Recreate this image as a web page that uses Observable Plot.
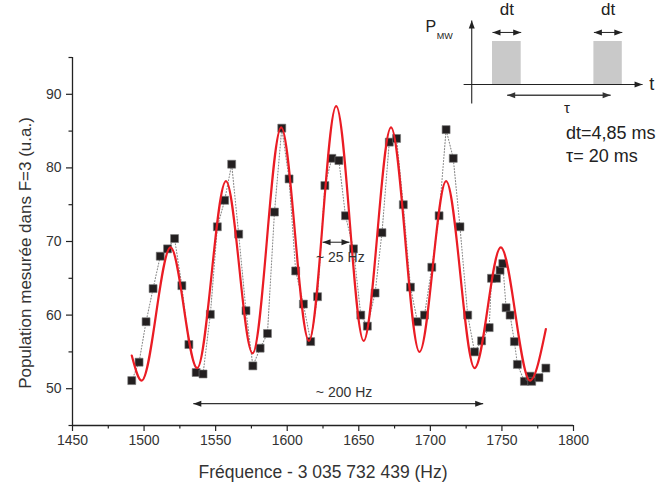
<!DOCTYPE html>
<html>
<head>
<meta charset="utf-8">
<script src="https://cdn.jsdelivr.net/npm/d3@7"></script>
<script src="https://cdn.jsdelivr.net/npm/@observablehq/plot@0.6"></script>
<style>
  body { margin: 0; background: #fff; }
  #wrap { position: relative; width: 659px; height: 487px; overflow: hidden; background: #fff; }
  #main, #inset { position: absolute; top: 0; }
  #main { left: 0; }
  #inset { left: 400px; }
</style>
</head>
<body>
<div id="wrap"><div id="main"></div><div id="inset"></div></div>
<script>
// ---- measured data (frequency offset in Hz, population in a.u.) ----
const freq = [1491.4,1496.5,1501.4,1506.3,1511.3,1516.4,1521.3,1526.4,1531.3,1536.4,1541.2,1546.3,1551.2,1556.3,1561.2,1566.1,1571.2,1576.0,1581.1,1586.2,1591.1,1596.2,1601.3,1605.9,1611.3,1616.4,1621.2,1626.3,1631.2,1636.1,1640.7,1646.3,1651.4,1656.0,1661.4,1666.2,1671.3,1676.4,1681.1,1686.1,1691.0,1695.9,1701.0,1706.1,1711.0,1716.0,1720.7,1726.1,1730.9,1735.8,1741.1,1742.7,1746.2,1748.7,1750.6,1752.9,1755.7,1758.7,1760.8,1765.7,1769.6,1770.8,1775.9,1780.7];
const population = [51.1,53.6,59.1,63.6,68.0,69.0,70.4,64.0,56.0,52.2,52.0,60.1,72.0,75.6,80.5,71.0,60.6,53.1,55.5,57.5,74.0,85.4,78.5,66.0,61.5,56.4,62.5,77.6,81.3,81.0,73.5,69.0,60.0,58.5,63.0,71.2,83.5,84.0,75.0,63.8,59.1,60.0,66.5,73.5,85.2,81.3,72.0,60.0,55.0,56.5,58.3,65.0,65.0,66.1,67.0,61.0,60.0,56.4,53.3,51.0,51.7,51.0,51.5,52.8];

// ---- fitted Ramsey curve, read at its turning points ----
const fitFreq = [1491.4,1498.3,1518.5,1537.1,1557.2,1575.8,1595.8,1615.2,1634.2,1653.4,1672.5,1692.4,1711.0,1730.9,1749.2,1769.6,1780.7];
const fitPop  = [54.5,51.1,69.2,52.8,78.2,54.8,85.5,56.5,88.4,56.5,85.5,55.0,78.2,52.8,69.2,51.1,58.1];

// ---- ticks ----
const xTicks = [1450,1500,1550,1600,1650,1700,1750,1800];
const xMinor = [1475,1525,1575,1625,1675,1725,1775];
const yTicks = [50,60,70,80,90];
const yMinor = [45,55,65,75,85,95];

// ---- annotations (width arrows) ----
const spanLabels = ["~ 25 Hz", "~ 200 Hz"];
const spanFrom = [1624.7, 1534.4];
const spanTo = [1643.5, 1736.9];
const spanAt = [69.9, 47.97];
const spanLabelX = [1637.1, 1639.7];
const spanLabelY = [67.8, 49.5];

// ---- inset: microwave pulse sequence (schematic time in ms, power) ----
const pulseStart = [0, 20];
const pulseEnd = [5.66, 25.6];
const pulseLabel = ["dt", "dt"];
const tauFrom = 2.9, tauTo = 23.3;
const paramLines = ["dt=4,85 ms", "τ= 20 ms"];

const xTitle = "Fréquence - 3 035 732 439 (Hz)";
const yTitle = "Population mesurée dans F=3 (u.a.)";

// arrowhead symbols (tip at origin)
const headRight = {draw(c){c.moveTo(0,0);c.lineTo(-8,-3);c.lineTo(-8,3);c.closePath();}};
const headLeft  = {draw(c){c.moveTo(0,0);c.lineTo(8,-3);c.lineTo(8,3);c.closePath();}};
const headUp    = {draw(c){c.moveTo(0,0);c.lineTo(-3,8);c.lineTo(3,8);c.closePath();}};

const pts = freq.map((f,i)=>({f, p: population[i]}));
const fit = fitFreq.map((f,i)=>({f, p: fitPop[i]}));
const spans = spanLabels.map((s,i)=>({s, x1: spanFrom[i], x2: spanTo[i], y: spanAt[i], lx: spanLabelX[i], ly: spanLabelY[i]}));

const font = "'Liberation Sans', Arial, Helvetica, sans-serif";
const ink = "#222";

const main = Plot.plot({
  width: 659, height: 487,
  marginLeft: 72, marginRight: 86, marginTop: 57, marginBottom: 62,
  x: {domain: [1450, 1800]},
  y: {domain: [45, 95]},
  style: {fontFamily: font, fontSize: "14px", color: ink, background: "transparent", overflow: "visible"},
  marks: [
    Plot.ruleY([45], {stroke: ink, strokeWidth: 1.3}),
    Plot.ruleX([1450], {stroke: ink, strokeWidth: 1.3}),
    Plot.axisX({ticks: xTicks, tickSize: 6, tickPadding: 4, tickFormat: d => String(d), label: null, strokeWidth: 1.2, fontSize: 14, fill: "#333"}),
    Plot.axisX({ticks: xMinor, tickSize: 3.5, tickFormat: () => null, label: null, strokeWidth: 1.2}),
    Plot.axisY({ticks: yTicks, tickSize: 6, tickPadding: 5, tickFormat: d => String(d), label: null, strokeWidth: 1.2, fontSize: 14, fill: "#333"}),
    Plot.axisY({ticks: yMinor, tickSize: 3.5, tickFormat: () => null, label: null, strokeWidth: 1.2}),
    // dotted guide through data
    Plot.line(pts, {x: "f", y: "p", stroke: "#8a8a8a", strokeWidth: 1.1, strokeDasharray: "1,2"}),
    // data squares
    Plot.dot(pts, {x: "f", y: "p", symbol: "square", r: 4.5, fill: "#231f20", stroke: "#777", strokeWidth: 0.6}),
    // fitted curve
    Plot.line(fit, {x: "f", y: "p", curve: "monotone-x", stroke: "#ea1c24", strokeWidth: 2.2}),
    // span arrows
    Plot.link(spans, {x1: "x1", x2: "x2", y1: "y", y2: "y", stroke: "#333", strokeWidth: 1.1}),
    Plot.dot(spans, {x: "x2", y: "y", symbol: headRight, r: 3, fill: "#222", stroke: null}),
    Plot.dot(spans, {x: "x1", y: "y", symbol: headLeft, r: 3, fill: "#222", stroke: null}),
    Plot.text(spans, {x: "lx", y: "ly", text: "s", fontSize: 14, fill: "#333"}),
    // axis titles
    Plot.text([xTitle], {frameAnchor: "bottom", textAnchor: "middle", lineAnchor: "middle", dy: 47, fontSize: 17.5, fill: "#333"}),
    Plot.text([yTitle], {frameAnchor: "left", textAnchor: "middle", lineAnchor: "middle", rotate: -90, dx: -47.4, dy: 11.5, fontSize: 17, fill: "#333"})
  ]
});
document.getElementById("main").appendChild(main);

// ---- inset ----
const pulses = pulseStart.map((s,i)=>({s, e: pulseEnd[i], l: pulseLabel[i], m: (s + pulseEnd[i]) / 2}));
const inset = Plot.plot({
  width: 259, height: 170, margin: 0,
  x: {domain: [-18.15, 32.94], axis: null},
  y: {domain: [-2.0, 1.953], axis: null},
  style: {fontFamily: font, color: ink, background: "transparent", overflow: "visible"},
  marks: [
    Plot.rect(pulses, {x1: "s", x2: "e", y1: 0, y2: 1, fill: "#c9c9c9"}),
    // axes
    Plot.link([0], {x1: -5.7, x2: 29.6, y1: 0, y2: 0, stroke: "#222", strokeWidth: 1.1}),
    Plot.dot([0], {x: 29.6, y: 0, symbol: headRight, r: 3, fill: "#222", stroke: null}),
    Plot.link([0], {x1: -4.1, x2: -4.1, y1: -0.44, y2: 1.49, stroke: "#222", strokeWidth: 1.1}),
    Plot.dot([0], {x: -4.1, y: 1.49, symbol: headUp, r: 3, fill: "#222", stroke: null}),
    Plot.text(["t"], {x: 30.9, y: 0, textAnchor: "start", fontSize: 18, fill: "#222"}),
    Plot.text(["P"], {x: -13.2, y: 1.33, textAnchor: "start", fontSize: 16, fill: "#222"}),
    Plot.text(["MW"], {x: -11.0, y: 1.13, textAnchor: "start", fontSize: 9, fill: "#222"}),
    // dt arrows
    Plot.link(pulses, {x1: "s", x2: "e", y1: 1.21, y2: 1.21, stroke: "#222", strokeWidth: 1}),
    Plot.dot(pulses, {x: "e", y: 1.21, symbol: headRight, r: 3, fill: "#222", stroke: null}),
    Plot.dot(pulses, {x: "s", y: 1.21, symbol: headLeft, r: 3, fill: "#222", stroke: null}),
    Plot.text(pulses, {x: "m", y: 1.74, text: "l", fontSize: 17, fill: "#222"}),
    // tau arrow
    Plot.link([0], {x1: tauFrom, x2: tauTo, y1: -0.25, y2: -0.25, stroke: "#444", strokeWidth: 1.4}),
    Plot.dot([0], {x: tauTo, y: -0.25, symbol: headRight, r: 3, fill: "#333", stroke: null}),
    Plot.dot([0], {x: tauFrom, y: -0.25, symbol: headLeft, r: 3, fill: "#333", stroke: null}),
    Plot.text(["τ"], {x: (tauFrom + tauTo) / 2 + 1.6, y: -0.56, fontSize: 15, fill: "#222"}),
    // parameters
    Plot.text(paramLines, {x: 14.5, y: (d, i) => [-1.14, -1.67][i], textAnchor: "start", fontSize: 18, fill: "#222"})
  ]
});
document.getElementById("inset").appendChild(inset);
</script>
</body>
</html>
